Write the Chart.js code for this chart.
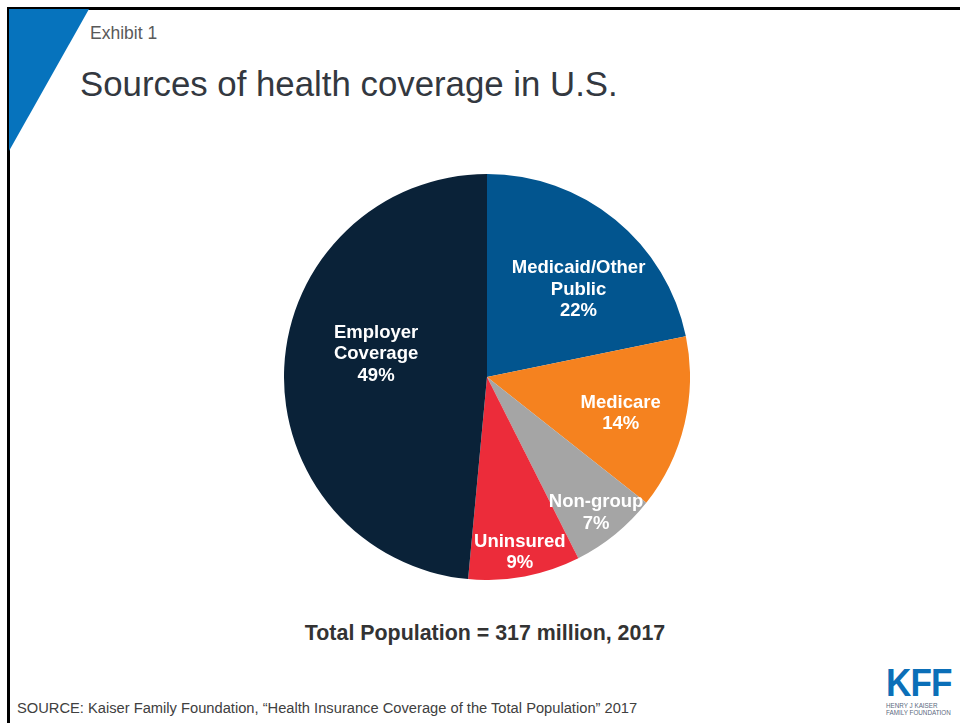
<!DOCTYPE html>
<html>
<head>
<meta charset="utf-8">
<script src="https://cdn.jsdelivr.net/npm/chart.js@4/dist/chart.umd.min.js"></script>
<style>
  html, body { margin: 0; padding: 0; background: #fff; }
  body { width: 960px; height: 723px; position: relative; overflow: hidden; font-family: "Liberation Sans", Arial, sans-serif; }
  .frame { position: absolute; left: 7px; top: 7px; right: -10px; bottom: -10px; border-left: 3px solid #000; border-top: 3px solid #000; }
  .corner { position: absolute; left: 9px; top: 9px; width: 80px; height: 142px; background: #0673bd; clip-path: polygon(0 0, 100% 0, 0 100%); }
  .exhibit { position: absolute; left: 90px; top: 23px; font-size: 17.5px; color: #595959; }
  .title { position: absolute; left: 80px; top: 64px; font-size: 34.8px; color: #333840; }
  .pie-box { position: absolute; left: 284px; top: 174px; width: 406px; height: 406px; }
  .total { position: absolute; left: 0; width: 970px; top: 621px; text-align: center; font-size: 21.4px; font-weight: bold; color: #333; }
  .source { position: absolute; left: 17px; top: 700px; font-size: 14.7px; color: #404040; white-space: nowrap; }
  .logo { position: absolute; left: 886px; top: 664px; width: 72px; white-space: nowrap; }
  .logo .kff { font-size: 39px; font-weight: bold; color: #0b6fb8; line-height: 38px; letter-spacing: -1px; transform: scaleX(0.9); transform-origin: left; }
  .logo .sub { font-size: 6.3px; color: #5a6a80; line-height: 7px; letter-spacing: 0; }
</style>
</head>
<body>
<div class="frame"></div>
<div class="corner"></div>
<div class="exhibit">Exhibit 1</div>
<div class="title">Sources of health coverage in U.S.</div>
<div class="pie-box"><canvas id="coverageChart"></canvas></div>
<div class="total">Total Population = 317 million, 2017</div>
<div class="source">SOURCE: Kaiser Family Foundation, “Health Insurance Coverage of the Total Population” 2017</div>
<div class="logo">
  <div class="kff">KFF</div>
  <div class="sub">HENRY J KAISER</div>
  <div class="sub">FAMILY FOUNDATION</div>
</div>

<script>
// coverage shares, clockwise from 12 o'clock
const categories = ['Medicaid/Other Public', 'Medicare', 'Non-group', 'Uninsured', 'Employer Coverage'];
const labelLines = [['Medicaid/Other', 'Public'], ['Medicare'], ['Non-group'], ['Uninsured'], ['Employer', 'Coverage']];
const shares = [22, 14, 7, 9, 49];
const sliceColors = ['#02558f', '#f5821f', '#a5a5a5', '#ec2c3a', '#0a2238'];

// where each label sits: fraction of radius, and a small angle nudge (degrees)
const labelRadius = [0.63, 0.68, 0.85, 0.87, 0.56];
const labelNudge = [6.5, 1, 0, 0, 10];

const sliceLabels = {
    id: 'sliceLabels',
    afterDatasetsDraw(chart) {
        const ctx = chart.ctx;
        const meta = chart.getDatasetMeta(0);
        ctx.save();
        ctx.fillStyle = '#fff';
        ctx.font = 'bold 18.5px "Liberation Sans", Arial, sans-serif';
        ctx.textAlign = 'center';
        ctx.textBaseline = 'middle';
        meta.data.forEach((arc, i) => {
            const p = arc.getProps(['x', 'y', 'startAngle', 'endAngle', 'outerRadius'], true);
            const mid = (p.startAngle + p.endAngle) / 2 + labelNudge[i] * Math.PI / 180;
            const r = p.outerRadius * labelRadius[i];
            const cx = p.x + Math.cos(mid) * r;
            const cy = p.y + Math.sin(mid) * r + 2;
            const lines = labelLines[i].concat([shares[i] + '%']);
            const lh = 21.5;
            const top = cy - (lines.length - 1) * lh / 2;
            lines.forEach((t, j) => ctx.fillText(t, cx, top + j * lh));
        });
        ctx.restore();
    }
};

new Chart(document.getElementById('coverageChart'), {
    type: 'pie',
    data: {
        labels: categories,
        datasets: [{
            data: shares,
            backgroundColor: sliceColors,
            borderWidth: 0,
            hoverOffset: 0
        }]
    },
    options: {
        responsive: true,
        maintainAspectRatio: false,
        animation: false,
        layout: { padding: 0 },
        plugins: {
            legend: { display: false },
            tooltip: { enabled: false }
        }
    },
    plugins: [sliceLabels]
});
</script>
</body>
</html>
